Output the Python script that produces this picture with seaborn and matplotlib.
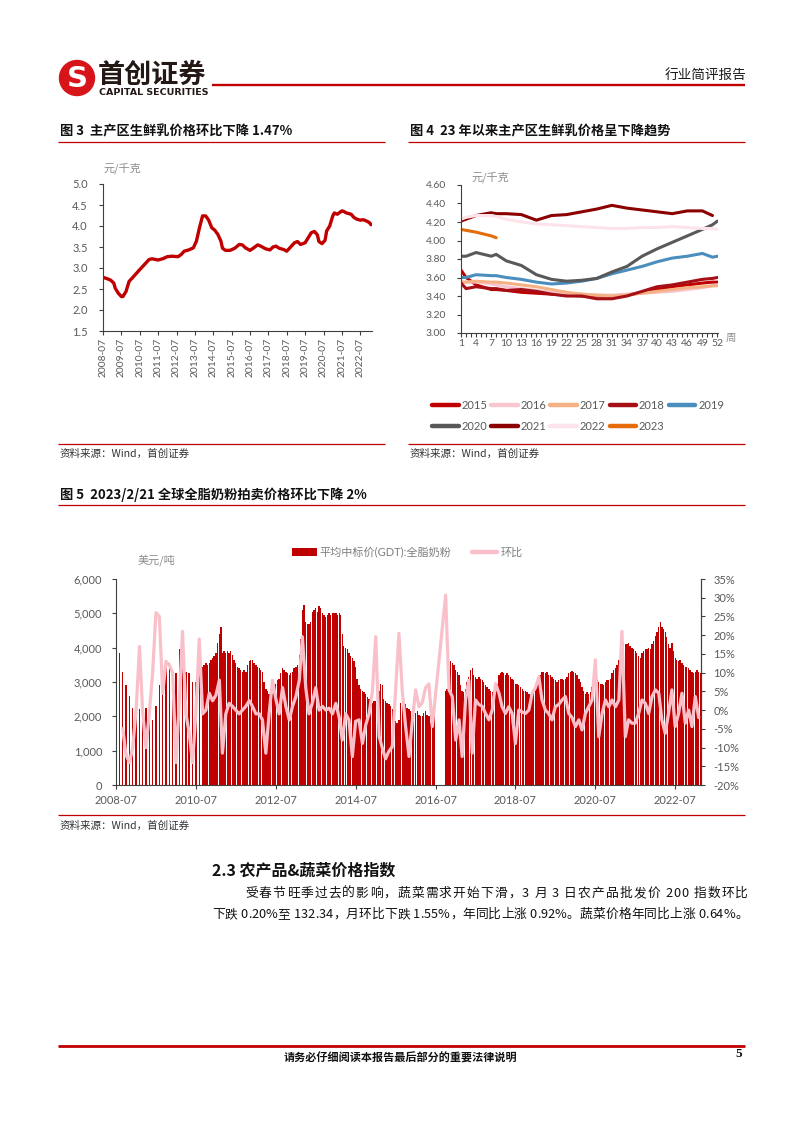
import numpy as np
import pandas as pd
import matplotlib
matplotlib.use("Agg")
import matplotlib.pyplot as plt
import matplotlib.dates as mdates
from matplotlib.patches import Circle, Rectangle
from matplotlib.lines import Line2D
import seaborn as sns

# ======================= DATA =======================
# Fig 3: 主产区生鲜乳价格 (元/千克)
milk_dates = ["2008-07","2008-10","2008-12","2009-02","2009-03","2009-05","2009-07","2009-08","2009-10","2009-12",
              "2010-02","2010-04","2010-07","2010-10","2011-01","2011-03","2011-07","2011-10","2012-01","2012-04",
              "2012-08","2012-10","2012-12","2013-03","2013-06","2013-08","2013-10","2013-12","2014-02","2014-04",
              "2014-06","2014-08","2014-10","2014-12","2015-01","2015-03","2015-06","2015-09","2015-12","2016-02",
              "2016-04","2016-07","2016-09","2016-12","2017-02","2017-05","2017-08","2017-10","2017-12","2018-02",
              "2018-05","2018-07","2018-09","2018-12","2019-02","2019-04","2019-07","2019-09","2019-11","2020-01",
              "2020-03","2020-04","2020-06","2020-08","2020-09","2020-11","2021-01","2021-02","2021-04","2021-07",
              "2021-08","2021-10","2022-01","2022-03","2022-05","2022-07","2022-09","2022-11","2023-01","2023-02"]
milk_price = [2.78,2.74,2.71,2.64,2.52,2.40,2.32,2.32,2.44,2.68,
              2.76,2.84,2.96,3.08,3.20,3.22,3.19,3.22,3.27,3.28,
              3.27,3.32,3.40,3.43,3.48,3.64,3.96,4.24,4.24,4.14,
              3.96,3.90,3.80,3.64,3.47,3.42,3.42,3.47,3.56,3.55,
              3.48,3.42,3.47,3.55,3.52,3.46,3.43,3.50,3.52,3.47,
              3.44,3.40,3.48,3.60,3.63,3.56,3.60,3.72,3.84,3.87,
              3.79,3.63,3.58,3.66,3.88,4.00,4.24,4.31,4.28,4.36,
              4.35,4.31,4.28,4.20,4.16,4.14,4.15,4.12,4.08,4.03]
milk_ticks = [f"{y}-07" for y in range(2008, 2023)]

# Fig 4: weekly price by year
weeks = [1, 2, 4, 7, 8, 10, 13, 16, 19, 22, 25, 28, 31, 34, 37, 40, 43, 46, 49, 51, 52]
nan = np.nan
y2015 = [3.68,3.60,3.52,3.47,3.47,3.46,3.44,3.43,3.42,3.41,3.40,3.40,3.40,3.41,3.44,3.47,3.50,3.52,3.54,3.55,3.55]
y2016 = [3.55,3.55,3.55,3.53,3.52,3.50,3.48,3.46,3.44,3.43,3.42,3.41,3.41,3.42,3.43,3.44,3.45,3.47,3.49,3.51,3.52]
y2017 = [3.55,3.55,3.56,3.55,3.55,3.54,3.52,3.50,3.47,3.44,3.42,3.41,3.40,3.41,3.43,3.45,3.47,3.49,3.50,3.51,3.51]
y2018 = [3.54,3.48,3.50,3.48,3.48,3.46,3.47,3.45,3.42,3.40,3.40,3.37,3.37,3.40,3.45,3.50,3.52,3.55,3.58,3.59,3.60]
y2019 = [3.60,3.60,3.63,3.62,3.62,3.60,3.58,3.55,3.53,3.54,3.56,3.59,3.64,3.68,3.72,3.77,3.81,3.83,3.86,3.82,3.83]
y2020 = [3.83,3.83,3.87,3.83,3.85,3.78,3.73,3.63,3.58,3.56,3.57,3.59,3.66,3.72,3.83,3.91,3.98,4.05,4.12,4.17,4.21]
y2021 = [4.21,4.23,4.27,4.30,4.29,4.29,4.28,4.22,4.27,4.28,4.31,4.34,4.38,4.35,4.33,4.31,4.29,4.32,4.32,4.27,nan]
y2022 = [4.23,4.25,4.27,4.27,4.26,4.23,4.20,4.18,4.17,4.16,4.15,4.14,4.13,4.13,4.14,4.14,4.15,4.14,4.13,4.13,4.12]
y2023 = [4.12,4.11,4.09,4.05,4.03] + [nan] * 16
years = ["2015","2016","2017","2018","2019","2020","2021","2022","2023"]
year_colors = ["#C00000","#F8C6D0","#F4B183","#A50F15","#4A8EBD","#595959","#8B0000","#FCE4EA","#E46C0A"]
week_labels = [str(w) if (w - 1) % 3 == 0 else "" for w in range(1, 53)]

# Fig 5: GDT whole milk powder average winning price (USD/t) and MoM change (%)
gdt_early_price = [3850,3300,2920,2600,2250,2050,2200,2250,2250,2150,1900,2300,2900,
                   2800,3650,3550,3300,3250,3950,3800,3300,3250,3000,3000,3500]   # 2008-08 .. 2010-08 monthly
gdt_price = [
    # 2010 Sep-Dec
    3450,3500,3550,3500,3550,3650,3700,3750,
    # 2011
    3850,4150,4400,4600,3850,3900,3850,3900,3850,3900,3800,3650,3550,3450,3400,3350,3300,3350,3300,3500,3600,3650,3650,3550,
    # 2012
    3500,3450,3400,3350,3300,3000,2800,2750,2650,2600,2650,2750,2950,3050,3100,3250,3400,3350,3300,3250,3200,3250,3300,3400,
    # 2013
    3450,3500,3800,4250,5100,5250,4750,4700,4700,4750,5050,5100,5150,5050,5200,5150,5000,4950,4900,4950,5000,4950,5000,5000,
    # 2014
    5000,4950,5000,4950,4400,4050,4000,3950,3850,3750,3700,3600,3450,3100,2900,2800,2750,2700,2650,2550,2500,2450,2400,2450,
    # 2015
    2450,2600,2750,2950,2900,2500,2450,2400,2350,2300,2200,2000,1850,1800,1900,2400,2500,2400,2350,2250,2200,2150,2100,2050,
    # 2016
    2100,2150,2050,2000,2000,2100,2150,2050,2000,1800,2100,2000,nan,nan,nan,nan,nan,nan,2750,2800,3000,3600,3550,3500,
    # 2017
    3350,3300,3200,2900,2750,2700,2800,3000,3150,3350,3400,3200,3150,3100,3150,3100,3050,3000,2900,2850,2800,2750,2700,2750,
    # 2018
    2800,2950,3200,3250,3300,3250,3200,3250,3200,3150,3100,3050,2950,2950,2900,2850,2800,2750,2750,2700,2650,2600,2600,2700,
    # 2019
    2850,2950,3050,3200,3300,3300,3250,3300,3200,3200,3150,3100,3050,3000,3050,3100,3100,3050,3100,3150,3250,3300,3330,3300,
    # 2020
    3250,3200,3100,3000,2850,2750,2650,2700,2650,2700,2850,2950,3000,3050,3000,2950,2950,2900,3000,3050,3050,3100,3250,3350,
    # 2021
    3400,3500,3650,4000,4150,4150,4100,4100,4150,4050,4000,3950,3900,3850,3750,3700,3850,3900,3950,3950,4000,3950,4100,4200,
    # 2022
    4350,4450,4600,4750,4600,4550,4450,4300,4100,4000,4150,3900,3700,3650,3600,3650,3550,3500,3450,3450,3400,3350,3300,3250,
    # 2023 Jan-Feb
    3300,3350,3300,3250]
gdt_mom = [
    -5,-12,-14,-10,                                             # 2008 Sep-Dec
    0,17,0,-10,-1,10,26,25,4.5,13,12,10,                        # 2009
    -14,3,21,-1,-6,-14,-1,19,-1,0,4.5,2.5,                      # 2010
    4,8,-11.5,-1,1.8,1,0,-1,0,1,2.5,1,                          # 2011
    -1,-1,-2.6,-11.5,-1,8,3,-1,6,1,-2.6,1,                      # 2012
    3.6,8,19.6,6,-1,2,6,0,1,0,0.5,-1,                           # 2013
    1.8,-2,-8,-1,-2.6,-12.4,-3,-2.6,-8.9,-4,-1,5,               # 2014
    19.6,-7,-10,-13,-11,-9.8,5,20.5,5,-4.4,-12.4,-3,            # 2015
    5.4,0.9,2,6,7,-4.4,nan,nan,nan,30.7,5.4,3.6,                # 2016
    -8,-2.6,-12.4,2.7,8,-11.5,2.7,1.5,1,-0.9,-2.6,0,            # 2017
    7.1,4.5,0.9,-0.9,0.9,-0.9,-8.9,0,-0.5,-0.9,0,4.5,           # 2018
    6,8.9,2.7,0,-0.9,-2.6,0.9,1.5,2.7,3.6,-0.9,-2,              # 2019
    -4.4,-2.6,-5.3,-0.9,0.9,2.7,13.4,-7.1,-0.9,2.7,0.9,2.7,     # 2020
    0.9,2.7,21,-7.1,-2.6,-3.5,-3.5,-0.9,2.7,1.8,-0.9,3.6,       # 2021
    5.4,4.5,-2.6,-6.2,-0.9,5.4,-4.4,-0.9,4.5,-3.5,0,-4.4,       # 2022
    3.6,-2]                                                     # 2023 Jan-Feb
gdt_ticks = [f"{y}-07" for y in range(2008, 2023, 2)]

# ======================= STYLE =======================
RED = "#C00000"
PINK = "#F9C0CA"
TICK_C = "#595959"
AX_C = "#404040"
CJK = ['Noto Sans CJK SC', 'DejaVu Sans']

sns.set_theme(style="white")
plt.rcParams['font.family'] = ['Lato', 'Noto Sans CJK SC', 'DejaVu Sans']
plt.rcParams['axes.unicode_minus'] = False

W, H = 802, 1133
fig = plt.figure(figsize=(W / 100, H / 100), dpi=100)
fig.patch.set_facecolor("white")
bg = fig.add_axes([0, 0, 1, 1], zorder=-1)
bg.set_xlim(0, W)
bg.set_ylim(H, 0)
bg.axis("off")


def rect(x0, y0, x1, y1):
    return [x0 / W, 1 - y1 / H, (x1 - x0) / W, (y1 - y0) / H]


def hline(x0, x1, y, lw, color=RED):
    bg.plot([x0, x1], [y, y], color=color, lw=lw, solid_capstyle="butt")


def txt(x, y, s, size, **kw):
    kw.setdefault("family", CJK)
    return bg.text(x, y, s, fontsize=size, **kw)


def style_axis(ax, left=True, right=False):
    for sp in ["top", "right", "left", "bottom"]:
        ax.spines[sp].set_visible(False)
    ax.spines["bottom"].set_visible(True)
    if left:
        ax.spines["left"].set_visible(True)
    if right:
        ax.spines["right"].set_visible(True)
    for sp in ax.spines.values():
        sp.set_color(AX_C)
        sp.set_linewidth(0.8)
    ax.set_facecolor("none")
    ax.grid(False)
    ax.set_xlabel("")
    ax.set_ylabel("")


# ======================= HEADER =======================
bg.add_patch(Circle((77, 78), 17.5, color="#D7141A"))
txt(77.5, 79, "S", 21, family=["DejaVu Sans"], weight="bold", color="white", ha="center", va="center")
txt(98, 75, "首创证券", 19.5, weight="bold", color="#231815", ha="left", va="center")
txt(99, 92.5, "CAPITAL SECURITIES", 6.8, family=["DejaVu Sans"], weight="bold", color="#231815",
    ha="left", va="center")
hline(212, 745, 84.5, 1.7)
txt(746, 75, "行业简评报告", 9.8, ha="right", va="center", color="#1a1a1a")

# ======================= TITLES / RULES =======================
txt(60, 131, "图 3  主产区生鲜乳价格环比下降 1.47%", 9.5, weight="bold", ha="left", va="center", color="#111111")
txt(410, 131, "图 4  23 年以来主产区生鲜乳价格呈下降趋势", 9.5, weight="bold", ha="left", va="center", color="#111111")
hline(58, 385, 142, 0.9)
hline(408, 745, 142, 0.9)
hline(58, 385, 444, 0.9)
hline(408, 745, 444, 0.9)
txt(60, 454, "资料来源：Wind，首创证券", 7.6, ha="left", va="center", color="#333333", style="italic")
txt(410, 454, "资料来源：Wind，首创证券", 7.6, ha="left", va="center", color="#333333", style="italic")

txt(60, 495, "图 5  2023/2/21 全球全脂奶粉拍卖价格环比下降 2%", 9.5, weight="bold", ha="left", va="center",
    color="#111111")
hline(58, 745, 505, 0.9)
hline(58, 745, 815, 0.9)
txt(60, 826, "资料来源：Wind，首创证券", 7.6, ha="left", va="center", color="#333333", style="italic")

# ======================= FIG 3 =======================
ax3 = fig.add_axes(rect(103, 184, 372, 331))
x3 = mdates.date2num(pd.to_datetime(milk_dates))
sns.lineplot(x=x3, y=milk_price, color=RED, lw=2.4, ax=ax3)
style_axis(ax3)
ax3.set_xlim(mdates.date2num(pd.Timestamp("2008-07-01")), mdates.date2num(pd.Timestamp("2023-02-20")))
ax3.set_ylim(1.5, 5.0)
yt3 = np.arange(1.5, 5.01, 0.5)
ax3.set_yticks(yt3)
ax3.set_yticklabels([f"{v:.1f}" for v in yt3])
ax3.set_xticks(mdates.date2num(pd.to_datetime(milk_ticks)))
ax3.set_xticklabels(milk_ticks, rotation=90)
ax3.tick_params(axis="y", direction="out", length=3, width=0.8, color=AX_C, labelsize=8, labelcolor=TICK_C, pad=8,
                left=True)
ax3.tick_params(axis="x", direction="out", length=3, width=0.8, color=AX_C, labelsize=7.4, labelcolor=TICK_C, pad=2,
                bottom=True)
txt(103, 168, "元/千克", 8, ha="left", va="center", color="#8C8C8C")

# ======================= FIG 4 =======================
ax4 = fig.add_axes(rect(461, 185, 718, 333))
rows = []
for yr, vals in zip(years, [y2015, y2016, y2017, y2018, y2019, y2020, y2021, y2022, y2023]):
    for w, v in zip(weeks, vals):
        rows.append({"week": w, "year": yr, "price": v})
df4 = pd.DataFrame(rows).dropna()
pal = dict(zip(years, year_colors))
sns.lineplot(data=df4, x="week", y="price", hue="year", hue_order=years, palette=pal, lw=2.2, ax=ax4,
             legend=False)
style_axis(ax4)
ax4.set_xlim(1, 52.1)
ax4.set_ylim(3.0, 4.6)
yt4 = np.arange(3.0, 4.61, 0.2)
ax4.set_yticks(yt4)
ax4.set_yticklabels([f"{v:.2f}" for v in yt4])
ax4.set_xticks(range(1, 53))
ax4.set_xticklabels(week_labels)
ax4.tick_params(axis="y", direction="out", length=3, width=0.8, color=AX_C, labelsize=7.5, labelcolor=TICK_C, pad=8,
                left=True)
ax4.tick_params(axis="x", direction="out", length=3, width=0.8, color=AX_C, labelsize=7.5, labelcolor=TICK_C, pad=1.5,
                bottom=True)
txt(472, 177, "元/千克", 8, ha="left", va="center", color="#8C8C8C")
txt(726, 338, "周", 7.5, ha="left", va="center", color="#8C8C8C")

handles4 = [Line2D([], [], color=c, lw=3.2, solid_capstyle="round") for c in year_colors]
order = [0, 5, 1, 6, 2, 7, 3, 8, 4]
fig.legend([handles4[i] for i in order], [years[i] for i in order], loc="center",
           bbox_to_anchor=(578 / W, 1 - 416 / H), ncol=5, frameon=False, fontsize=8, labelcolor=TICK_C,
           handlelength=2.4, handletextpad=0.25, columnspacing=0.35, labelspacing=0.95)

# ======================= FIG 5 =======================
ax5 = fig.add_axes(rect(116, 579, 701, 785))
d_early = pd.date_range("2008-08-01", periods=len(gdt_early_price), freq="MS")
d_late = pd.date_range("2010-09-01", "2023-02-15", freq="SMS")
assert len(d_late) == len(gdt_price)
bar_x = np.concatenate([mdates.date2num(d_early), mdates.date2num(d_late)])
bar_y = np.array(list(gdt_early_price) + list(gdt_price), dtype=float)
ok = ~np.isnan(bar_y)
ax5.bar(bar_x[ok], bar_y[ok], width=12.5, color=RED, linewidth=0, align="center")
style_axis(ax5, left=True, right=True)
xl = (mdates.date2num(pd.Timestamp("2008-07-01")), mdates.date2num(pd.Timestamp("2023-02-22")))
ax5.set_xlim(*xl)
ax5.set_ylim(0, 6000)
ax5.set_yticks(range(0, 6001, 1000))
ax5.set_yticklabels([f"{v:,}" for v in range(0, 6001, 1000)])
ax5.set_xticks(mdates.date2num(pd.to_datetime(gdt_ticks)))
ax5.set_xticklabels(gdt_ticks)
ax5.tick_params(axis="y", direction="out", length=3, width=0.8, color=AX_C, labelsize=8, labelcolor=TICK_C, pad=7,
                left=True)
ax5.tick_params(axis="x", direction="out", length=3, width=0.8, color=AX_C, labelsize=8, labelcolor=TICK_C, pad=4,
                bottom=True)

ax5b = ax5.twinx()
d_mom = pd.date_range("2008-09-01", periods=len(gdt_mom), freq="MS")
df5 = pd.DataFrame({"x": mdates.date2num(d_mom), "mom": gdt_mom}).dropna()
sns.lineplot(data=df5, x="x", y="mom", color=PINK, lw=2.3, ax=ax5b)
ax5b.set_xlim(*xl)
ax5b.set_ylim(-20, 35)
for sp in ["top", "left", "bottom"]:
    ax5b.spines[sp].set_visible(False)
ax5b.spines["right"].set_visible(True)
ax5b.spines["right"].set_color(AX_C)
ax5b.spines["right"].set_linewidth(0.8)
ax5b.grid(False)
ax5b.set_xlabel("")
ax5b.set_ylabel("")
yt5 = list(range(-20, 36, 5))
ax5b.set_yticks(yt5)
ax5b.set_yticklabels([f"{v}%" for v in yt5])
ax5b.tick_params(axis="y", direction="out", length=3, width=0.8, color=AX_C, labelsize=8, labelcolor=TICK_C, pad=6,
                 right=True)
txt(138, 560, "美元/吨", 8, ha="left", va="center", color="#8C8C8C")

h5 = [Rectangle((0, 0), 1, 1, facecolor=RED, edgecolor="none"), Line2D([], [], color=PINK, lw=3.2)]
fig.legend(h5, ["平均中标价(GDT):全脂奶粉", "环比"], loc="center", bbox_to_anchor=(407 / W, 1 - 552 / H),
           ncol=2, frameon=False, fontsize=8, labelcolor="#7F7F7F", handlelength=2.3, handletextpad=0.25,
           columnspacing=1.8)

# ======================= BODY TEXT =======================
txt(212, 876, "2.3 农产品&蔬菜价格指数", 11.5, weight="bold", ha="left", va="baseline", color="#111111")

renderer = fig.canvas.get_renderer()


def meas(s, size):
    t = bg.text(0, 0, s, fontsize=size, family=CJK)
    w = t.get_window_extent(renderer=renderer).width
    t.remove()
    return w


def justify(s, x0, x1, ybase, size, color="#111111"):
    base = meas("||", size)
    adv = [meas("|" + c + "|", size) - base for c in s]
    gap = (x1 - x0 - sum(adv)) / (len(s) - 1)
    x = x0
    for c, a in zip(s, adv):
        if c.strip():
            bg.text(x, ybase, c, fontsize=size, family=CJK, ha="left", va="baseline", color=color)
        x += a + gap


line1 = "受春节旺季过去的影响，蔬菜需求开始下滑，3 月 3 日农产品批发价 200 指数环比"
line2 = "下跌 0.20%至 132.34，月环比下跌 1.55%，年同比上涨 0.92%。蔬菜价格年同比上涨 0.64%。"
justify(line1, 245, 748, 897, 9.2)
justify(line2, 212, 748, 918, 9.2)

# ======================= FOOTER =======================
hline(58, 745, 1046, 2.0)
txt(400, 1058, "请务必仔细阅读本报告最后部分的重要法律说明", 8, weight="bold", ha="center", va="center",
    color="#111111")
txt(742, 1054, "5", 9.5, family=["Liberation Serif", "DejaVu Serif"], weight="bold", ha="right", va="center",
    color="#111111")

fig.savefig("out.png", dpi=100, facecolor="white")
